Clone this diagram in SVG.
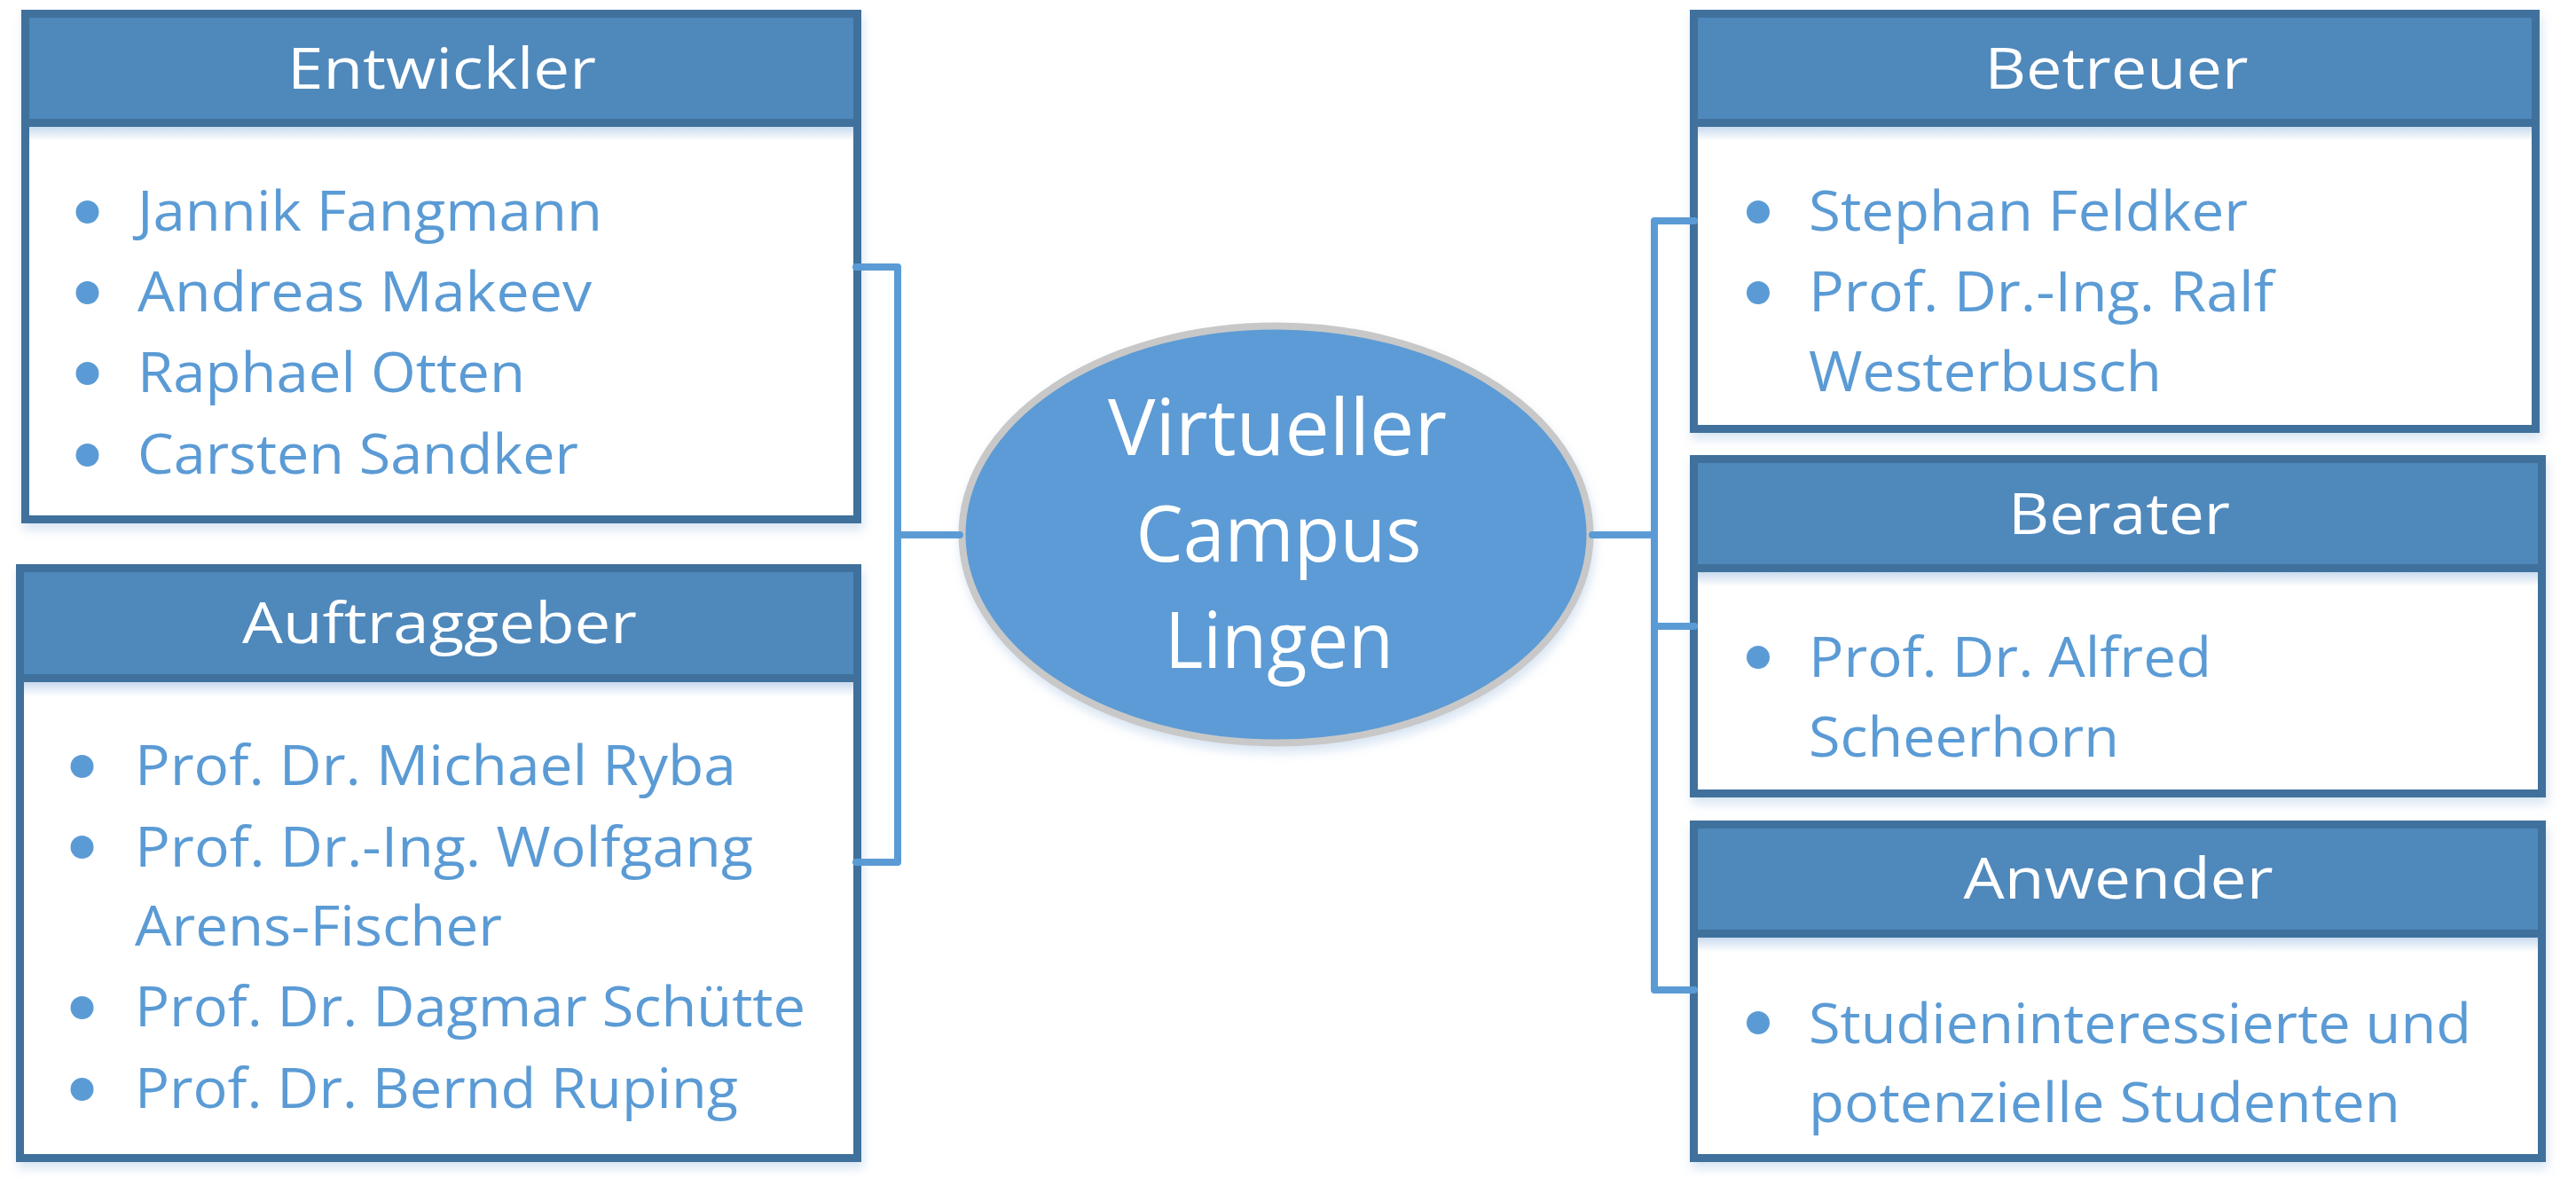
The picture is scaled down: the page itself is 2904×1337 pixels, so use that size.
<svg xmlns="http://www.w3.org/2000/svg" width="2904" height="1337" viewBox="0 0 2904 1337">
<defs>
<filter id="sh" x="-5%" y="-5%" width="110%" height="115%">
<feDropShadow dx="2" dy="7" stdDeviation="6" flood-color="#8FB0DA" flood-opacity="0.35"/>
</filter>
<linearGradient id="ig" x1="0" y1="0" x2="0" y2="1">
<stop offset="0" stop-color="#C9DAEE"/>
<stop offset="1" stop-color="#FFFFFF"/>
</linearGradient>
<style>
.frame{fill:#41719C}
.head{fill:#4F88BB}
.body{fill:#FFFFFF}
.glow{fill:url(#ig)}
.ht{font-family:"Open Sans","Noto Sans","Liberation Sans",sans-serif;font-size:64px;fill:#FFFFFF;text-anchor:middle}
.bt{font-family:"Open Sans","Noto Sans","Liberation Sans",sans-serif;font-size:63px;fill:#5B9BD5}
.ct{font-family:"Open Sans","Noto Sans","Liberation Sans",sans-serif;font-size:88px;fill:#FFFFFF;text-anchor:middle}
.dot{fill:#5B9BD5}
.con{fill:none;stroke:#5B9BD5;stroke-width:8;stroke-linecap:round;stroke-linejoin:round}
</style>
</defs>
<rect width="2904" height="1337" fill="#FFFFFF"/>

<g id="entwickler">
<rect class="frame" x="24" y="11" width="947" height="579" filter="url(#sh)"/>
<rect class="head" x="33" y="20" width="929" height="114"/>
<rect class="body" x="33" y="143" width="929" height="438"/>
<rect class="glow" x="33" y="143" width="929" height="16"/>
<text class="ht" x="498" y="100" textLength="348" lengthAdjust="spacingAndGlyphs">Entwickler</text>
<circle class="dot" cx="98.5" cy="239" r="13"/>
<circle class="dot" cx="98.5" cy="330" r="13"/>
<circle class="dot" cx="98.5" cy="421" r="13"/>
<circle class="dot" cx="98.5" cy="513" r="13"/>
<text class="bt" x="155" y="260" textLength="524" lengthAdjust="spacingAndGlyphs">Jannik Fangmann</text>
<text class="bt" x="155" y="351" textLength="512" lengthAdjust="spacingAndGlyphs">Andreas Makeev</text>
<text class="bt" x="155" y="442" textLength="437" lengthAdjust="spacingAndGlyphs">Raphael Otten</text>
<text class="bt" x="155" y="534" textLength="497" lengthAdjust="spacingAndGlyphs">Carsten Sandker</text>
</g>

<g id="auftraggeber">
<rect class="frame" x="18" y="636" width="953" height="674" filter="url(#sh)"/>
<rect class="head" x="27" y="645" width="935" height="115"/>
<rect class="body" x="27" y="769" width="935" height="532"/>
<rect class="glow" x="27" y="769" width="935" height="16"/>
<text class="ht" x="495.5" y="725" textLength="445" lengthAdjust="spacingAndGlyphs">Auftraggeber</text>
<circle class="dot" cx="92.5" cy="864" r="13"/>
<circle class="dot" cx="92.5" cy="955" r="13"/>
<circle class="dot" cx="92.5" cy="1136" r="13"/>
<circle class="dot" cx="92.5" cy="1228" r="13"/>
<text class="bt" x="152" y="885" textLength="678" lengthAdjust="spacingAndGlyphs">Prof. Dr. Michael Ryba</text>
<text class="bt" x="152" y="977" textLength="697" lengthAdjust="spacingAndGlyphs">Prof. Dr.-Ing. Wolfgang</text>
<text class="bt" x="152" y="1066" textLength="414" lengthAdjust="spacingAndGlyphs">Arens-Fischer</text>
<text class="bt" x="152" y="1157" textLength="756" lengthAdjust="spacingAndGlyphs">Prof. Dr. Dagmar Schütte</text>
<text class="bt" x="152" y="1249" textLength="680" lengthAdjust="spacingAndGlyphs">Prof. Dr. Bernd Ruping</text>
</g>

<g id="betreuer">
<rect class="frame" x="1905" y="11" width="958" height="477" filter="url(#sh)"/>
<rect class="head" x="1914" y="20" width="940" height="114"/>
<rect class="body" x="1914" y="143" width="940" height="336"/>
<rect class="glow" x="1914" y="143" width="940" height="16"/>
<text class="ht" x="2386" y="100" textLength="297" lengthAdjust="spacingAndGlyphs">Betreuer</text>
<circle class="dot" cx="1982" cy="239" r="13"/>
<circle class="dot" cx="1982" cy="330" r="13"/>
<text class="bt" x="2039" y="260" textLength="495" lengthAdjust="spacingAndGlyphs">Stephan Feldker</text>
<text class="bt" x="2039" y="351" textLength="524" lengthAdjust="spacingAndGlyphs">Prof. Dr.-Ing. Ralf</text>
<text class="bt" x="2039" y="441" textLength="398" lengthAdjust="spacingAndGlyphs">Westerbusch</text>
</g>

<g id="berater">
<rect class="frame" x="1905" y="513" width="965" height="386" filter="url(#sh)"/>
<rect class="head" x="1914" y="522" width="947" height="114"/>
<rect class="body" x="1914" y="645" width="947" height="245"/>
<rect class="glow" x="1914" y="645" width="947" height="16"/>
<text class="ht" x="2389" y="602" textLength="250" lengthAdjust="spacingAndGlyphs">Berater</text>
<circle class="dot" cx="1982" cy="741" r="13"/>
<text class="bt" x="2039" y="763" textLength="454" lengthAdjust="spacingAndGlyphs">Prof. Dr. Alfred</text>
<text class="bt" x="2039" y="853" textLength="350" lengthAdjust="spacingAndGlyphs">Scheerhorn</text>
</g>

<g id="anwender">
<rect class="frame" x="1905" y="925" width="965" height="385" filter="url(#sh)"/>
<rect class="head" x="1914" y="934" width="947" height="114"/>
<rect class="body" x="1914" y="1057" width="947" height="244"/>
<rect class="glow" x="1914" y="1057" width="947" height="16"/>
<text class="ht" x="2388" y="1013" textLength="349" lengthAdjust="spacingAndGlyphs">Anwender</text>
<circle class="dot" cx="1982" cy="1153" r="13"/>
<text class="bt" x="2039" y="1176" textLength="747" lengthAdjust="spacingAndGlyphs">Studieninteressierte und</text>
<text class="bt" x="2039" y="1265" textLength="667" lengthAdjust="spacingAndGlyphs">potenzielle Studenten</text>
</g>

<g id="campus">
<ellipse cx="1438.5" cy="602.5" rx="354" ry="235" fill="#5B9BD5" stroke="#C8C8C8" stroke-width="8" filter="url(#sh)"/>
<text class="ct" x="1440" y="513" textLength="382" lengthAdjust="spacingAndGlyphs">Virtueller</text>
<text class="ct" x="1441.5" y="633" textLength="322" lengthAdjust="spacingAndGlyphs">Campus</text>
<text class="ct" x="1442" y="753" textLength="258" lengthAdjust="spacingAndGlyphs">Lingen</text>
</g>

<g id="connectors">
<path class="con" d="M965 301 H1012 V972 H965"/>
<path class="con" d="M1012 603 H1082"/>
<path class="con" d="M1795 603 H1865"/>
<path class="con" d="M1910 249 H1865 V1116 H1910"/>
<path class="con" d="M1865 706 H1910"/>
</g>
</svg>
